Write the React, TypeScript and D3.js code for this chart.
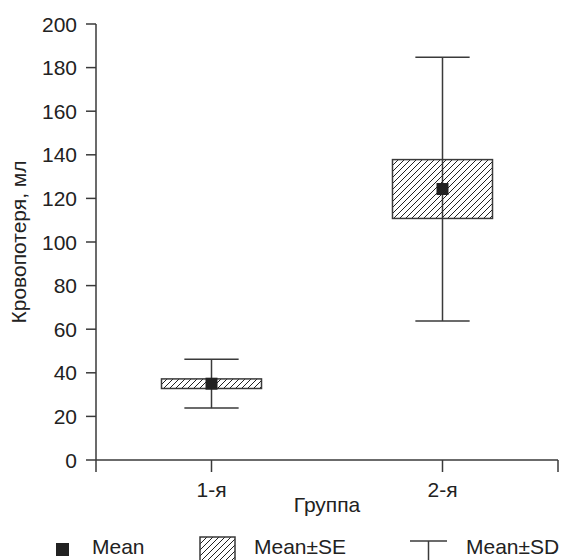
import React from "react";
import * as d3 from "d3";

const width = 568;
const height = 560;
const margin = { top: 24, right: 10, bottom: 100, left: 96 };

// data
const groups = ["1-я", "2-я"];
const groupPos = [1, 3];
const means = [35, 124.3];
const se = [2.2, 13.5];
const sd = [11.2, 60.5];
const yTicks = [0, 20, 40, 60, 80, 100, 120, 140, 160, 180, 200];
const xTicks = [0, 1, 3, 4];

const font = "'Liberation Sans', Arial, sans-serif";
const ink = "#222";
const axisInk = "#3a3a3a";
const fs = 21;

export default function App() {
  const xScale = d3
    .scaleLinear()
    .domain([0, 4])
    .range([margin.left, width - margin.right]);
  const yScale = d3
    .scaleLinear()
    .domain([0, 200])
    .range([460, margin.top]);

  const unit = xScale(1) - xScale(0);
  const boxHalf = unit * 0.433;
  const capHalf = unit * 0.235;
  const markSize = 12;

  const y0 = yScale(0);

  return (
    <svg
      width={width}
      height={height}
      style={{ position: "absolute", left: 0, top: 0 }}
      fontFamily={font}
    >
      <defs>
        <pattern id="hatch" patternUnits="userSpaceOnUse" width={6} height={6}>
          <path
            d="M0,6 L6,0 M-1,1 L1,-1 M5,7 L7,5"
            stroke={ink}
            strokeWidth={1}
          />
        </pattern>
      </defs>

      {/* y axis */}
      <line x1={xScale(0)} x2={xScale(0)} y1={yScale(200)} y2={y0} stroke={axisInk} strokeWidth={1.5} />
      {yTicks.map(t => (
        <g key={t}>
          <line x1={xScale(0) - 10} x2={xScale(0)} y1={yScale(t)} y2={yScale(t)} stroke={axisInk} strokeWidth={1.5} />
          <text x={xScale(0) - 19} y={yScale(t)} dy="0.36em" textAnchor="end" fontSize={fs} fill={ink}>
            {t}
          </text>
        </g>
      ))}

      {/* x axis */}
      <line x1={xScale(0)} x2={xScale(4)} y1={y0} y2={y0} stroke={axisInk} strokeWidth={1.5} />
      {xTicks.map(t => (
        <line key={t} x1={xScale(t)} x2={xScale(t)} y1={y0} y2={y0 + 12} stroke={axisInk} strokeWidth={1.5} />
      ))}
      {groups.map((g, i) => (
        <text key={g} x={xScale(groupPos[i])} y={497} textAnchor="middle" fontSize={fs} fill={ink}>
          {g}
        </text>
      ))}

      <text x={327} y={512} textAnchor="middle" fontSize={fs} fill={ink}>
        Группа
      </text>
      <text
        transform={`translate(26,${(yScale(200) + y0) / 2}) rotate(-90)`}
        textAnchor="middle"
        fontSize={fs}
        fill={ink}
      >
        Кровопотеря, мл
      </text>

      {/* groups */}
      {groups.map((g, i) => {
        const cx = xScale(groupPos[i]);
        const m = means[i];
        return (
          <g key={g}>
            <line x1={cx} x2={cx} y1={yScale(m + sd[i])} y2={yScale(m - sd[i])} stroke={axisInk} strokeWidth={1.5} />
            <line x1={cx - capHalf} x2={cx + capHalf} y1={yScale(m + sd[i])} y2={yScale(m + sd[i])} stroke={axisInk} strokeWidth={1.5} />
            <line x1={cx - capHalf} x2={cx + capHalf} y1={yScale(m - sd[i])} y2={yScale(m - sd[i])} stroke={axisInk} strokeWidth={1.5} />
            <rect
              x={cx - boxHalf}
              y={yScale(m + se[i])}
              width={boxHalf * 2}
              height={yScale(m - se[i]) - yScale(m + se[i])}
              fill="url(#hatch)"
              stroke={axisInk}
              strokeWidth={1.5}
            />
            <rect
              x={cx - markSize / 2}
              y={yScale(m) - markSize / 2}
              width={markSize}
              height={markSize}
              fill={ink}
            />
          </g>
        );
      })}

      {/* legend */}
      <rect x={56} y={543} width={13} height={13} fill={ink} />
      <text x={92} y={554} fontSize={fs} fill={ink}>Mean</text>
      <rect x={200} y={537} width={35} height={30} fill="url(#hatch)" stroke={axisInk} strokeWidth={1.5} />
      <text x={254} y={554} fontSize={fs} fill={ink}>Mean±SE</text>
      <line x1={410} x2={447} y1={541} y2={541} stroke={axisInk} strokeWidth={1.5} />
      <line x1={428.5} x2={428.5} y1={541} y2={568} stroke={axisInk} strokeWidth={1.5} />
      <text x={466} y={554} fontSize={fs} fill={ink}>Mean±SD</text>
    </svg>
  );
}
